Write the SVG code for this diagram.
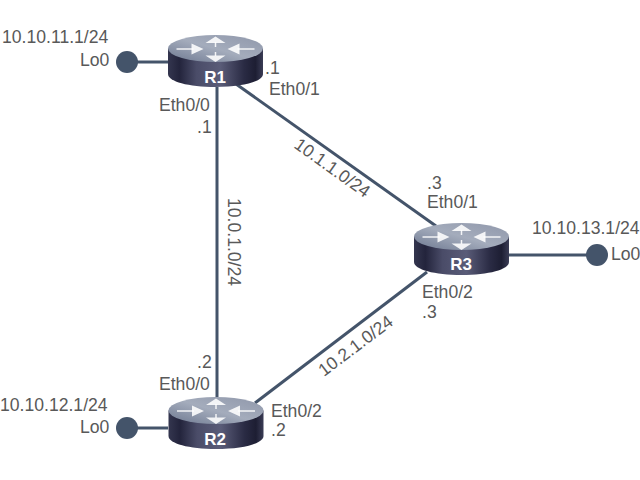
<svg xmlns="http://www.w3.org/2000/svg" xmlns:xlink="http://www.w3.org/1999/xlink" width="640" height="480" viewBox="0 0 640 480">
<style>
text{font-family:"Liberation Sans",Arial,sans-serif;font-size:17.600px;fill:#595959}
text.r{font-weight:bold;fill:#fff;text-anchor:middle;font-size:17px}
.l{stroke:#44546a;stroke-width:3;fill:none}
.d{fill:#44546a}
.a{stroke:#fff;stroke-width:1.500;fill:none;opacity:.88}
.h{fill:#fff;opacity:.88}
</style>
<defs>
<linearGradient id="b" x1="0" x2="1" y1="0" y2="0">
<stop offset="0" stop-color="#34364f"/><stop offset=".12" stop-color="#23243c"/><stop offset=".3" stop-color="#4a4c68"/><stop offset=".55" stop-color="#5a5c78"/><stop offset=".8" stop-color="#2a2b44"/><stop offset=".92" stop-color="#1d1e33"/><stop offset="1" stop-color="#3a3c55"/>
</linearGradient>
<linearGradient id="t" x1="0" x2="1" y1="1" y2="0">
<stop offset="0" stop-color="#6d7890"/><stop offset=".5" stop-color="#a4acbc"/><stop offset="1" stop-color="#8f97aa"/>
</linearGradient>
<g id="router">
<path d="M-47.500 13.500V39C-47.500 46.500 -27 52 0 52S47.500 46.500 47.500 39V13.500Z" fill="url(#b)"/>
<ellipse cx="0" cy="13.500" rx="47.500" ry="13.500" fill="url(#t)"/>
<path class="a" d="M-39 14H-22M39 14H22M0 7V12M0 17V21"/>
<path class="h" d="M-12 14L-24 8.500V19.500ZM12 14L24 8.500V19.500ZM0 1.500L-10 8H10ZM0 27L-10 20.500H10Z"/>
</g>
</defs>
<g id="connectors">
<path class="l" d="M127 62H168"/>
<path class="l" d="M127 428H168"/>
<path class="l" d="M509 255H597"/>
<path class="l" d="M217 87V397"/>
<path class="l" d="M236 84L436 226"/>
<path class="l" d="M427 272L255 403"/>
</g>
<g id="R1"><use xlink:href="#router" href="#router" x="215.500" y="35"/><text class="r" x="215" y="83">R1</text></g>
<g id="R2"><use xlink:href="#router" href="#router" x="216" y="397"/><text class="r" x="215" y="445">R2</text></g>
<g id="R3"><use xlink:href="#router" href="#router" x="461.500" y="223"/><text class="r" x="461" y="270">R3</text></g>
<g id="Lo0-R1"><circle class="d" cx="127" cy="62" r="11"/><text x="2" y="43">10.10.11.1/24</text><text x="80" y="66">Lo0</text></g>
<g id="Lo0-R2"><circle class="d" cx="127" cy="428" r="11"/><text x="0" y="411">10.10.12.1/24</text><text x="80" y="433">Lo0</text></g>
<g id="Lo0-R3"><circle class="d" cx="597" cy="255" r="11"/><text x="532" y="234">10.10.13.1/24</text><text x="611" y="260">Lo0</text></g>
<g id="labels">
<text x="159" y="111">Eth0/0</text><text x="197" y="133">.1</text>
<text x="265" y="74">.1</text><text x="269" y="95">Eth0/1</text>
<text x="427" y="189">.3</text><text x="427" y="208">Eth0/1</text>
<text x="422" y="298">Eth0/2</text><text x="422" y="318">.3</text>
<text x="197" y="368">.2</text><text x="159" y="390">Eth0/0</text>
<text x="271" y="417">Eth0/2</text><text x="271" y="436">.2</text>
<text transform="translate(293 147) rotate(35.500)">10.1.1.0/24</text>
<text transform="translate(228 198) rotate(90)">10.0.1.0/24</text>
<text transform="translate(324 377) rotate(-37)">10.2.1.0/24</text>
</g>
</svg>
